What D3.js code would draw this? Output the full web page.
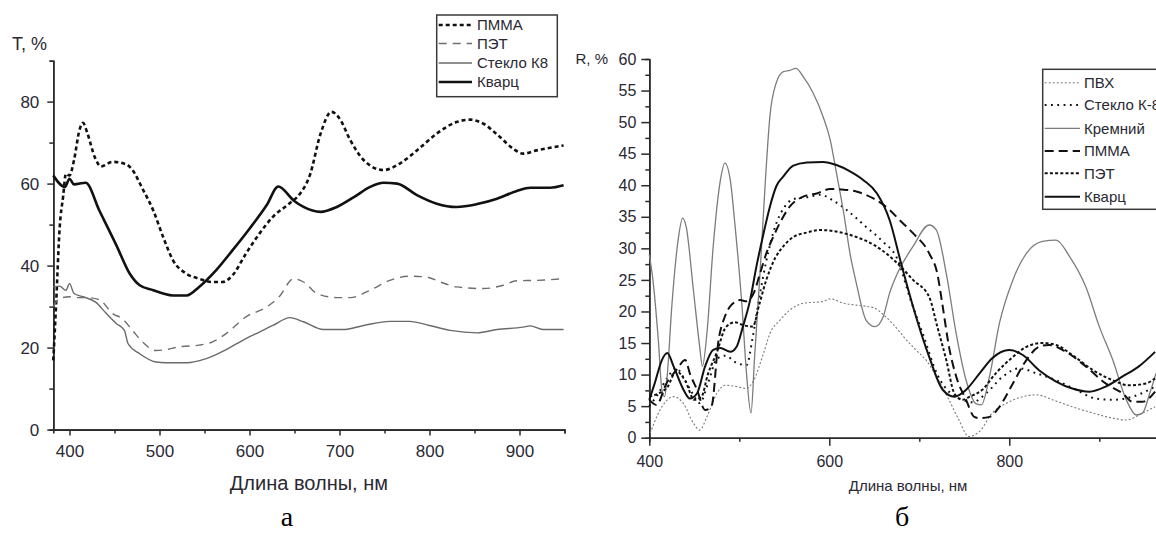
<!DOCTYPE html>
<html>
<head>
<meta charset="utf-8">
<script src="https://cdn.jsdelivr.net/npm/d3@7"></script>
<style>
  body { margin: 0; background: #fff; }
  svg { display: block; font-family: "Liberation Sans", Arial, sans-serif; }
</style>
</head>
<body>
<div id="chart"></div>
<script>
// ---- panel a: transmission, T %  ([wavelength nm, value %]) ----
const tPmma = [[382,16.9],[385,30],[389,49],[393,57],[396,62.4],[400,62],[405,65.7],[411,73],[415,74.8],[420,72.2],[428,66.5],[435,64.2],[448,65.3],[463,64.7],[470,63.3],[481,58.8],[493,53.5],[504,47],[515,41.3],[530,38],[544,36.8],[559,36],[570,36],[581,37.6],[596,42.9],[611,47.8],[626,51.9],[644,55.1],[656,57.5],[667,62],[679,72.2],[691,77.5],[700,75.9],[712,70.6],[727,65.7],[749,63.3],[767,64.9],[786,68.1],[808,72.2],[830,75],[845,75.6],[860,74.6],[878,71.4],[893,68.5],[904,67.3],[919,68.1],[949,69.3]];
const tPet = [[382,30],[389,32],[400,32.4],[407,32.2],[418,32.2],[433,31.7],[448,28.3],[459,27],[470,24.2],[481,21.4],[496,19.3],[507,19.5],[522,20.2],[544,20.6],[559,21.4],[574,23.4],[596,27.5],[619,29.9],[633,32.4],[649,36.8],[660,36],[675,33.2],[697,32.2],[712,32.2],[734,34],[756,36.4],[778,37.4],[797,37.2],[812,36],[830,34.8],[860,34.4],[882,35.2],[897,36.3],[919,36.4],[949,36.8]];
const tGlassK8 = [[382,34.8],[389,35],[396,34],[400,35.6],[405,33.2],[415,32.4],[429,31.1],[441,28.3],[452,25.9],[461,24.2],[465,21],[478,18.5],[496,16.5],[507,16.3],[530,16.3],[552,17.3],[574,19.5],[596,22.2],[611,23.8],[626,25.4],[645,27.3],[660,26.3],[682,24.4],[704,24.4],[727,25.4],[756,26.4],[778,26.4],[800,25.4],[823,24.2],[853,23.6],[875,24.4],[904,25],[912,25.3],[926,24.4],[949,24.4]];
const tQuartz = [[382,62],[395,59.2],[400,61.2],[405,59.8],[418,60.2],[433,53.5],[452,45],[467,38],[478,35.2],[493,34],[504,33.2],[515,32.7],[530,32.7],[544,34.8],[563,38.9],[581,43.7],[600,49],[619,54.7],[632,59.3],[649,55.9],[660,54.3],[679,53.1],[697,54.3],[716,56.7],[734,59.2],[749,60.2],[764,60],[786,57.2],[808,55.1],[830,54.3],[853,55],[875,56.3],[897,58.2],[912,59],[934,59],[949,59.6]];

const tXTicks = [400, 500, 600, 700, 800, 900];
const tXMinor = [450, 550, 650, 750, 850, 950];
const tYTicks = [0, 20, 40, 60, 80];
const tYMinor = [10, 30, 50, 70];
const tLegend = ["ПММА", "ПЭТ", "Стекло К8", "Кварц"];

// ---- panel б: reflection, R % ----
const rPvc = [[401,0.7],[412,4.4],[427,6.5],[438,5.4],[449,2.3],[456,1.2],[464,3.3],[475,7],[484,8.3],[497,8.1],[508,7.8],[516,9.1],[527,13.4],[534,16.5],[545,18.6],[556,20.2],[571,21.3],[593,21.6],[601,22],[616,21.3],[630,21],[649,20.6],[660,19.5],[672,17.8],[685,15.6],[697,13.8],[708,12.2],[719,9.7],[733,6],[744,2.8],[755,0.2],[767,1],[781,3.9],[796,5.4],[815,6.5],[830,6.8],[848,6],[870,4.9],[893,3.9],[915,3.1],[930,2.8],[948,3.9],[962,4.9]];
const rGlassK8 = [[400,5],[410,7],[420,9.5],[430,11],[440,9],[448,7],[456,5.5],[465,8.5],[475,12.5],[485,13],[495,12],[508,11.5],[515,16],[522,22],[530,28],[540,33.5],[550,36.5],[560,37.8],[575,38.1],[590,38.5],[605,37.5],[620,36],[640,33.5],[660,31],[675,28.5],[690,22],[705,16],[720,10],[735,7],[748,6],[759,5.6],[774,7],[793,9.7],[811,11],[830,10.2],[852,9.1],[874,7.6],[896,6.2],[915,6],[937,6.5],[962,8.1]];
const rSilicon = [[400,29],[404,25],[410,15.5],[414,7.6],[417,6.5],[420,10],[425,20.8],[432,31.3],[437,34.8],[441,33.4],[449,23.4],[456,14.4],[459,11.3],[464,16.5],[471,30.3],[479,40.8],[484,43.5],[490,40.8],[495,34],[503,20.8],[508,10.2],[513,3.9],[517,12.8],[523,26],[529,40.8],[534,50.9],[541,56.2],[549,58],[556,58.2],[563,58.5],[571,57.2],[582,54.6],[593,50.9],[601,47.2],[608,41.9],[616,35.6],[623,29.2],[630,24.5],[641,18.6],[651,17.6],[660,19.2],[667,22.9],[674,25.5],[693,30.3],[711,33.7],[719,32.9],[730,26],[741,16.5],[752,9.1],[763,5.4],[769,5.2],[778,9.7],[789,18.1],[804,25],[819,29.2],[837,31.1],[852,31.3],[867,28.7],[885,23.9],[900,17.6],[915,12.3],[930,6],[941,3.6],[948,3.9],[956,7],[963,10.2]];
const rPmma = [[400,6],[408,5.2],[419,8.6],[430,10.7],[440,12.3],[445,10.2],[453,7.6],[462,4.4],[469,4.9],[477,15.5],[484,19.2],[491,21],[501,21.8],[508,21.6],[516,22.9],[523,26],[530,29.2],[538,31.9],[545,34],[556,36.6],[571,38.2],[586,38.7],[601,39.4],[616,39.3],[630,39],[649,37.9],[667,36.1],[678,34.5],[693,32.4],[711,29.2],[720,26],[726,20.8],[733,14.4],[741,9.7],[752,6],[761,3.3],[767,3.1],[778,3.3],[789,4.9],[804,8.6],[819,12.3],[833,14.4],[844,14.7],[863,13.6],[885,11.3],[907,8.6],[926,7],[937,5.7],[948,5.7],[962,7.3]];
const rPet = [[400,6.5],[410,7],[420,8],[430,10.5],[440,9],[450,6],[458,6.5],[465,10],[475,13.5],[485,17.5],[495,18.3],[505,17.8],[515,17.6],[522,21],[530,25],[540,28.5],[550,30.5],[560,31.8],[575,32.5],[590,32.9],[610,32.6],[630,31.8],[650,30.5],[665,29],[680,27],[693,25],[711,22.3],[720,17.6],[730,12.3],[739,7],[748,6],[756,6.5],[770,7.6],[785,10.2],[804,12.8],[819,14.4],[837,15],[852,14.7],[870,13.1],[893,10.7],[915,9.1],[933,8.3],[952,8.6],[962,9.4]];
const rQuartz = [[400,6],[406,8.6],[414,12.3],[420,13.4],[427,11.3],[438,7.6],[445,6.2],[453,7],[462,11.3],[471,13.9],[479,14.2],[490,13.6],[497,14.4],[504,17.6],[512,21.8],[519,27.1],[527,32.4],[534,36.6],[541,39.8],[549,41.4],[560,43.1],[575,43.6],[593,43.7],[608,43.2],[623,42.2],[638,40.8],[653,38.7],[667,34.5],[680,27.5],[693,20.8],[711,12.8],[726,7.6],[739,6.5],[752,7.6],[767,10.2],[781,12.6],[800,13.9],[815,13.1],[833,10.7],[852,8.9],[870,7.8],[889,7.3],[907,8.1],[926,9.7],[944,11.3],[962,13.6]];

const rXTicks = [400, 600, 800];
const rXMinor = [500, 700, 900];
const rYTicks = [0, 5, 10, 15, 20, 25, 30, 35, 40, 45, 50, 55, 60];
const rYMinor = rYTicks.slice(0, -1).map((v) => v + 2.5);
const rLegend = ["ПВХ", "Стекло К-8", "Кремний", "ПММА", "ПЭТ", "Кварц"];

const axisColor = "#2b2b2b";
const labelColor = "#2a2833";

const svg = d3
  .select("#chart")
  .append("svg")
  .attr("width", 1156)
  .attr("height", 535);

svg.append("rect").attr("width", 1156).attr("height", 535).attr("fill", "#fff");

// draw one axis pair (majors with labels, minors without)
function drawAxes(x, y, opt) {
  const g = svg.append("g");

  g.append("g")
    .attr("transform", `translate(0, ${y.range()[0]})`)
    .call(d3.axisBottom(x).tickValues(opt.xMinor).tickSize(opt.minorSize).tickFormat(""));
  g.append("g")
    .attr("transform", `translate(0, ${y.range()[0]})`)
    .call(d3.axisBottom(x).tickValues(opt.xTicks).tickSize(opt.majorSize).tickPadding(opt.xPad).tickSizeOuter(0))
    .selectAll("text")
    .style("font-size", opt.font + "px");

  g.append("g")
    .attr("transform", `translate(${x.range()[0]}, 0)`)
    .call(d3.axisLeft(y).tickValues(opt.yMinor).tickSize(opt.minorSize).tickFormat(""));
  g.append("g")
    .attr("transform", `translate(${x.range()[0]}, 0)`)
    .call(d3.axisLeft(y).tickValues(opt.yTicks).tickSize(opt.majorSize).tickPadding(opt.yPad).tickSizeOuter(0))
    .selectAll("text")
    .style("font-size", opt.font + "px");

  g.selectAll("path.domain").attr("stroke", axisColor).attr("stroke-width", 1.6);
  g.selectAll(".tick line").attr("stroke", axisColor).attr("stroke-width", 1.5);
  g.selectAll(".tick text").attr("fill", labelColor).style("font-family", "Liberation Sans, Arial, sans-serif");
}

function drawLegend(box, names, styles, rowY, fontSize) {
  svg
    .append("rect")
    .attr("x", box.x)
    .attr("y", box.y)
    .attr("width", box.w)
    .attr("height", box.h)
    .attr("fill", "#fff")
    .attr("stroke", "#3a3a3a")
    .attr("stroke-width", 1.5);

  names.forEach((name, i) => {
    const s = styles[i];
    svg
      .append("line")
      .attr("x1", box.x + 2)
      .attr("x2", box.sampleEnd)
      .attr("y1", rowY[i])
      .attr("y2", rowY[i])
      .attr("stroke", s.color)
      .attr("stroke-width", s.width)
      .attr("stroke-dasharray", s.dash);

    svg
      .append("text")
      .attr("x", box.textX)
      .attr("y", rowY[i])
      .attr("dy", "0.36em")
      .style("font-size", fontSize + "px")
      .attr("fill", labelColor)
      .text(name);
  });
}

// ---------------- panel a ----------------
const xT = d3.scaleLinear().domain([382, 950]).range([53.3, 564.5]);
const yT = d3.scaleLinear().domain([0, 90]).range([429.6, 60.6]);

drawAxes(xT, yT, {
  xTicks: tXTicks, xMinor: tXMinor, yTicks: tYTicks, yMinor: tYMinor,
  majorSize: 6, minorSize: 4, xPad: 9, yPad: 8, font: 17
});

const tSeries = [
  { data: tPmma, color: "#111", width: 2.6, dash: "4,3" },
  { data: tPet, color: "#6e6e6e", width: 1.4, dash: "8,6" },
  { data: tGlassK8, color: "#6a6a6a", width: 1.4, dash: null },
  { data: tQuartz, color: "#111", width: 2.6, dash: null }
];

const lineT = d3
  .line()
  .x((d) => xT(d[0]))
  .y((d) => yT(d[1]))
  .curve(d3.curveMonotoneX);

tSeries.forEach((s) => {
  svg
    .append("path")
    .attr("d", lineT(s.data))
    .attr("fill", "none")
    .attr("stroke", s.color)
    .attr("stroke-width", s.width)
    .attr("stroke-dasharray", s.dash);
});

svg
  .append("text")
  .attr("x", 12)
  .attr("y", 50)
  .style("font-size", "18px")
  .attr("fill", labelColor)
  .text("T, %");

svg
  .append("text")
  .attr("x", (xT.range()[0] + xT.range()[1]) / 2)
  .attr("y", 490)
  .attr("text-anchor", "middle")
  .style("font-size", "20px")
  .attr("fill", labelColor)
  .text("Длина волны, нм");

drawLegend(
  { x: 436.7, y: 15, w: 120.6, h: 81.7, sampleEnd: 472, textX: 477 },
  tLegend,
  tSeries,
  [25, 43.5, 63, 82],
  15
);

// ---------------- panel б ----------------
const xR = d3.scaleLinear().domain([400, 975]).range([649.3, 1166.8]);
const yR = d3.scaleLinear().domain([0, 60]).range([437.7, 59]);

drawAxes(xR, yR, {
  xTicks: rXTicks, xMinor: rXMinor, yTicks: rYTicks, yMinor: rYMinor,
  majorSize: 8, minorSize: 4, xPad: 10, yPad: 5, font: 16
});

const rSeries = [
  { data: rPvc, color: "#7a7a7a", width: 1.1, dash: "2,2" },
  { data: rGlassK8, color: "#111", width: 2, dash: "1.8,4.5" },
  { data: rSilicon, color: "#7c7c7c", width: 1.3, dash: null },
  { data: rPmma, color: "#111", width: 2, dash: "9,5" },
  { data: rPet, color: "#111", width: 2, dash: "3,2.2" },
  { data: rQuartz, color: "#111", width: 2, dash: null }
];

const lineR = d3
  .line()
  .x((d) => xR(d[0]))
  .y((d) => yR(d[1]))
  .curve(d3.curveMonotoneX);

rSeries.forEach((s) => {
  svg
    .append("path")
    .attr("d", lineR(s.data))
    .attr("fill", "none")
    .attr("stroke", s.color)
    .attr("stroke-width", s.width)
    .attr("stroke-dasharray", s.dash);
});

svg
  .append("text")
  .attr("x", 608)
  .attr("y", 64)
  .attr("text-anchor", "end")
  .style("font-size", "15px")
  .attr("fill", labelColor)
  .text("R, %");

svg
  .append("text")
  .attr("x", (xR.range()[0] + xR.range()[1]) / 2)
  .attr("y", 491)
  .attr("text-anchor", "middle")
  .style("font-size", "15px")
  .attr("fill", labelColor)
  .text("Длина волны, нм");

drawLegend(
  { x: 1042.7, y: 69.3, w: 130, h: 140, sampleEnd: 1080, textX: 1084 },
  rLegend,
  rSeries,
  [82.7, 105, 128.3, 151, 173.3, 196.7],
  15
);

// panel letters
svg
  .append("text")
  .attr("x", 287)
  .attr("y", 526)
  .attr("text-anchor", "middle")
  .style("font-family", "Liberation Serif, Times New Roman, serif")
  .style("font-size", "28px")
  .text("а");

svg
  .append("text")
  .attr("x", 902)
  .attr("y", 526)
  .attr("text-anchor", "middle")
  .style("font-family", "Liberation Serif, Times New Roman, serif")
  .style("font-size", "28px")
  .text("б");
</script>
</body>
</html>
